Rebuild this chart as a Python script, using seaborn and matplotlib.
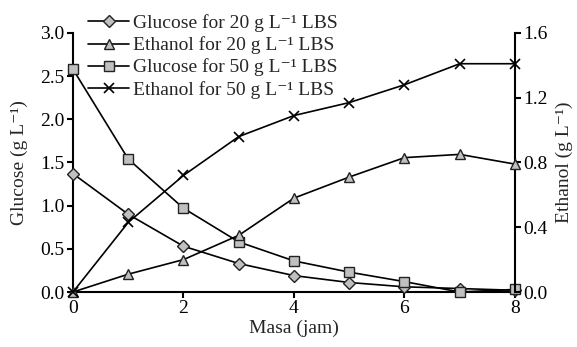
import matplotlib
matplotlib.use("Agg")
import matplotlib.pyplot as plt
import seaborn as sns
import pandas as pd
from matplotlib.lines import Line2D

hours = [0, 1, 2, 3, 4, 5, 6, 7, 8]
glucose_20 = [1.37, 0.90, 0.53, 0.33, 0.19, 0.11, 0.06, 0.04, 0.02]
glucose_50 = [2.58, 1.54, 0.97, 0.58, 0.36, 0.23, 0.12, 0.00, 0.03]
ethanol_20 = [0.00, 0.11, 0.20, 0.35, 0.58, 0.71, 0.83, 0.85, 0.79]
ethanol_50 = [0.00, 0.43, 0.72, 0.96, 1.09, 1.17, 1.28, 1.41, 1.41]

labels = ["Glucose for 20 g L\u207b\u00b9 LBS", "Ethanol for 20 g L\u207b\u00b9 LBS",
          "Glucose for 50 g L\u207b\u00b9 LBS", "Ethanol for 50 g L\u207b\u00b9 LBS"]

sns.set_style("ticks")
plt.rcParams['font.family'] = ['Liberation Serif', 'DejaVu Serif']

FS = 14

fig = plt.figure(figsize=(5.77, 3.47), dpi=100)
ax = fig.add_axes([0.1265, 0.1585, 0.766, 0.7465])
ax2 = ax.twinx()

df = pd.DataFrame({"t": hours, "g20": glucose_20, "g50": glucose_50,
                   "e20": ethanol_20, "e50": ethanol_50})

grey = "#c0c0c0"
edge = "#222222"
styles = {
    "g20": dict(marker="D", markersize=6.5, markerfacecolor=grey, markeredgecolor=edge),
    "e20": dict(marker="^", markersize=7.5, markerfacecolor=grey, markeredgecolor=edge),
    "g50": dict(marker="s", markersize=7.5, markerfacecolor=grey, markeredgecolor=edge),
    "e50": dict(marker="x", markersize=7, markeredgecolor="black", markeredgewidth=1.2),
}

for key, axis in [("g20", ax), ("g50", ax), ("e20", ax2), ("e50", ax2)]:
    sns.lineplot(data=df, x="t", y=key, ax=axis, color="black", linewidth=1.2,
                 markeredgewidth=styles[key].get("markeredgewidth", 1.0),
                 **{k: v for k, v in styles[key].items() if k != "markeredgewidth"},
                 clip_on=False, zorder=3)

ax.set_xlim(0, 8)
ax.set_ylim(0, 3.0)
ax2.set_ylim(0, 1.6)
ax.set_xticks([0, 2, 4, 6, 8])
ax.set_yticks([0.0, 0.5, 1.0, 1.5, 2.0, 2.5, 3.0])
ax.set_yticklabels(["0.0", "0.5", "1.0", "1.5", "2.0", "2.5", "3.0"])
ax2.set_yticks([0.0, 0.4, 0.8, 1.2, 1.6])
ax2.set_yticklabels(["0.0", "0.4", "0.8", "1.2", "1.6"])

for a in (ax, ax2):
    a.spines["top"].set_visible(False)
    for s in a.spines.values():
        s.set_linewidth(1.5)
        s.set_color("black")
    a.tick_params(direction="out", length=4, width=1.5, labelsize=FS, colors="black", pad=2)
ax2.spines["left"].set_visible(False)
ax2.spines["bottom"].set_visible(False)
ax.spines["right"].set_visible(False)

ax.set_xlabel("Masa (jam)", fontsize=FS, labelpad=2)
ax.set_ylabel("Glucose (g L\u207b\u00b9)", fontsize=FS, labelpad=9)
ax2.set_ylabel("Ethanol (g L\u207b\u00b9)", fontsize=FS, labelpad=6)

handles = []
for key in ["g20", "e20", "g50", "e50"]:
    st = dict(styles[key])
    mew = st.pop("markeredgewidth", 1.0)
    handles.append(Line2D([], [], color="black", linewidth=1.2, markeredgewidth=mew, **st))
leg = ax.legend(handles, labels, loc="upper left", bbox_to_anchor=(0.035, 1.072),
                frameon=False, fontsize=FS, handlelength=2.1, handletextpad=0.2,
                labelspacing=0.22, borderaxespad=0, borderpad=0)

fig.savefig("out.png", dpi=100)
